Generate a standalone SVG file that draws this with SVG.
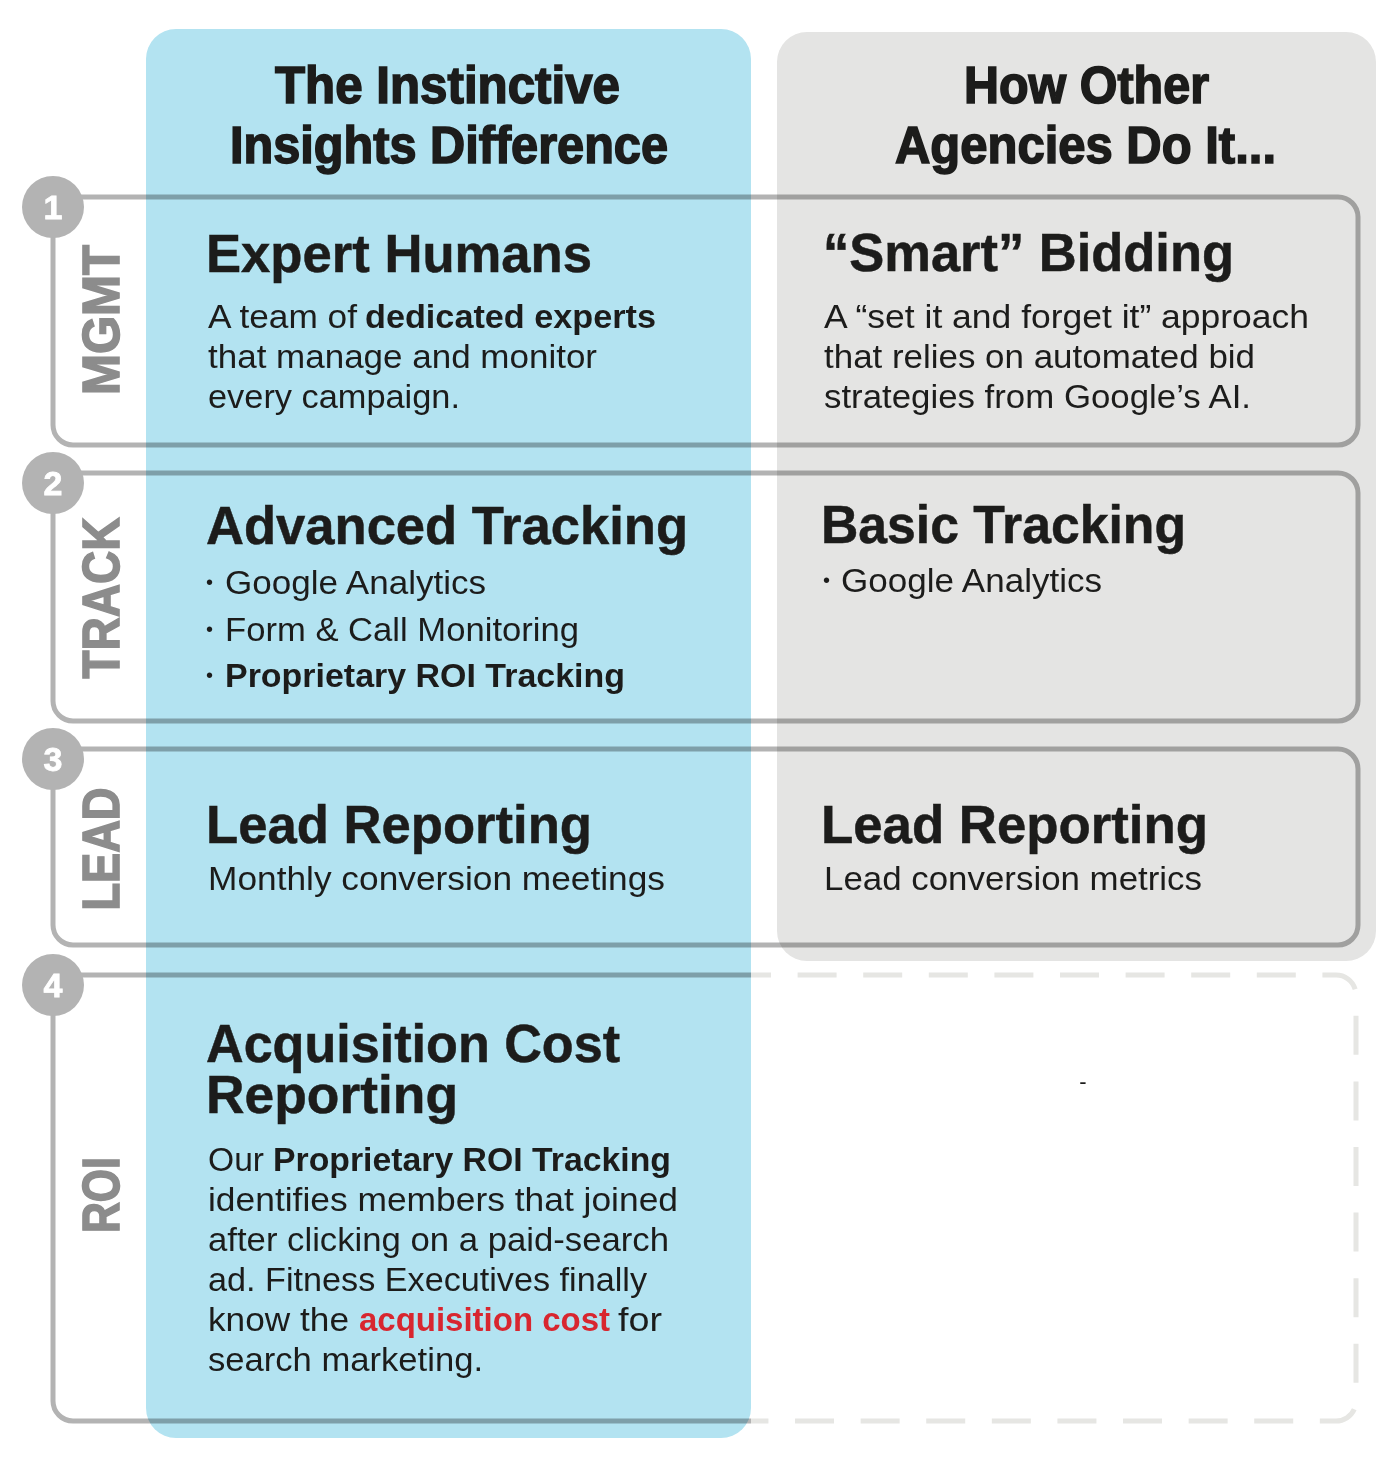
<svg xmlns="http://www.w3.org/2000/svg" width="1396" height="1478" viewBox="0 0 1396 1478">
<style>
  text { font-family: "Liberation Sans", Arial, sans-serif; fill: #1c1c1b; }
  .hdr { font-size: 51px; font-weight: bold; stroke: #1c1c1b; stroke-width: 1.6; }
  .h { font-size: 53px; font-weight: bold; stroke: #1c1c1b; stroke-width: 0.5; }
  .b { font-size: 33px; }
  .bb { font-size: 33px; font-weight: bold; }
  .red { fill: #d8262f; }
  .dot { font-size: 20px; }
  .lbl { font-size: 52px; font-weight: bold; fill: #8c8c8c; stroke: #8c8c8c; stroke-width: 1.6; }
  .num { font-size: 34px; font-weight: bold; fill: #ffffff; stroke: #ffffff; stroke-width: 0.8; }
  .frame { fill: none; stroke: #b3b3b3; stroke-width: 5; mix-blend-mode: multiply; }
  .dash { fill: none; stroke: #e6e6e3; stroke-width: 5; stroke-dasharray: 39 26.6; stroke-dashoffset: 19; }
  .circ { fill: #b3b3b3; }
</style>
<rect width="1396" height="1478" fill="#ffffff"/>

<g id="col-instinctive">
  <rect x="146" y="29" width="605" height="1409" rx="30" fill="#b3e3f1"/>
</g>
<g id="col-others">
  <rect x="777" y="32" width="599" height="929" rx="30" fill="#e4e4e3"/>
</g>

<g id="frames">
  <rect class="frame" x="53" y="197" width="1305" height="248" rx="20"/>
  <rect class="frame" x="53" y="473" width="1305" height="248" rx="20"/>
  <rect class="frame" x="53" y="749" width="1305" height="196" rx="20"/>
  <path class="frame" d="M751,975 H73 A20,20 0 0 0 53,995 V1401 A20,20 0 0 0 73,1421 H751"/>
  <path class="dash" d="M751,975 H1336 A20,20 0 0 1 1356,995 V1401 A20,20 0 0 1 1336,1421 H751"/>
</g>

<g id="row-1-marker">
  <circle class="circ" cx="53" cy="207" r="31"/>
  <text class="num" x="53" y="219" text-anchor="middle">1</text>
  <text class="lbl" transform="translate(119,320) rotate(-90)" text-anchor="middle" textLength="150" lengthAdjust="spacingAndGlyphs">MGMT</text>
</g>
<g id="row-2-marker">
  <circle class="circ" cx="53" cy="483" r="31"/>
  <text class="num" x="53" y="495" text-anchor="middle">2</text>
  <text class="lbl" transform="translate(119,598) rotate(-90)" text-anchor="middle" textLength="161" lengthAdjust="spacingAndGlyphs">TRACK</text>
</g>
<g id="row-3-marker">
  <circle class="circ" cx="53" cy="759" r="31"/>
  <text class="num" x="53" y="771" text-anchor="middle">3</text>
  <text class="lbl" transform="translate(119,849) rotate(-90)" text-anchor="middle" textLength="123" lengthAdjust="spacingAndGlyphs">LEAD</text>
</g>
<g id="row-4-marker">
  <circle class="circ" cx="53" cy="985" r="31"/>
  <text class="num" x="53" y="997" text-anchor="middle">4</text>
  <text class="lbl" transform="translate(119,1195) rotate(-90)" text-anchor="middle" textLength="76" lengthAdjust="spacingAndGlyphs">ROI</text>
</g>

<g id="header-instinctive">
  <text class="hdr" x="275" y="103" textLength="345" lengthAdjust="spacingAndGlyphs">The Instinctive</text>
  <text class="hdr" x="230" y="163" textLength="438" lengthAdjust="spacingAndGlyphs">Insights Difference</text>
</g>
<g id="header-others">
  <text class="hdr" x="964" y="103" textLength="245" lengthAdjust="spacingAndGlyphs">How Other</text>
  <text class="hdr" x="895" y="163" textLength="381" lengthAdjust="spacingAndGlyphs">Agencies Do It...</text>
</g>

<g id="cell-1-instinctive">
  <text class="h" x="206" y="272" textLength="386" lengthAdjust="spacingAndGlyphs">Expert Humans</text>
  <text class="b" x="208" y="328" textLength="149" lengthAdjust="spacingAndGlyphs">A team of</text>
  <text class="bb" x="365" y="328" textLength="291" lengthAdjust="spacingAndGlyphs">dedicated experts</text>
  <text class="b" x="208" y="368" textLength="389" lengthAdjust="spacingAndGlyphs">that manage and monitor</text>
  <text class="b" x="208" y="408" textLength="252" lengthAdjust="spacingAndGlyphs">every campaign.</text>
</g>
<g id="cell-1-others">
  <text class="h" x="823" y="271" textLength="411" lengthAdjust="spacingAndGlyphs">“Smart” Bidding</text>
  <text class="b" x="824" y="328" textLength="485" lengthAdjust="spacingAndGlyphs">A “set it and forget it” approach</text>
  <text class="b" x="824" y="368" textLength="431" lengthAdjust="spacingAndGlyphs">that relies on automated bid</text>
  <text class="b" x="824" y="408" textLength="427" lengthAdjust="spacingAndGlyphs">strategies from Google’s AI.</text>
</g>

<g id="cell-2-instinctive">
  <text class="h" x="206" y="544" textLength="482" lengthAdjust="spacingAndGlyphs">Advanced Tracking</text>
  <text class="dot" x="206" y="589">•</text>
  <text class="b" x="225" y="594" textLength="261" lengthAdjust="spacingAndGlyphs">Google Analytics</text>
  <text class="dot" x="206" y="636">•</text>
  <text class="b" x="225" y="641" textLength="354" lengthAdjust="spacingAndGlyphs">Form &amp; Call Monitoring</text>
  <text class="dot" x="206" y="682">•</text>
  <text class="bb" x="225" y="687" textLength="400" lengthAdjust="spacingAndGlyphs">Proprietary ROI Tracking</text>
</g>
<g id="cell-2-others">
  <text class="h" x="821" y="543" textLength="365" lengthAdjust="spacingAndGlyphs">Basic Tracking</text>
  <text class="dot" x="823" y="587">•</text>
  <text class="b" x="841" y="592" textLength="261" lengthAdjust="spacingAndGlyphs">Google Analytics</text>
</g>

<g id="cell-3-instinctive">
  <text class="h" x="206" y="843" textLength="386" lengthAdjust="spacingAndGlyphs">Lead Reporting</text>
  <text class="b" x="208" y="890" textLength="457" lengthAdjust="spacingAndGlyphs">Monthly conversion meetings</text>
</g>
<g id="cell-3-others">
  <text class="h" x="821" y="843" textLength="387" lengthAdjust="spacingAndGlyphs">Lead Reporting</text>
  <text class="b" x="824" y="890" textLength="378" lengthAdjust="spacingAndGlyphs">Lead conversion metrics</text>
</g>

<g id="cell-4-instinctive">
  <text class="h"><tspan x="206" y="1062" textLength="414" lengthAdjust="spacingAndGlyphs">Acquisition Cost</tspan><tspan x="206" y="1113" textLength="252" lengthAdjust="spacingAndGlyphs">Reporting</tspan></text>
  <text class="b" x="208" y="1171" textLength="56" lengthAdjust="spacingAndGlyphs">Our</text>
  <text class="bb" x="273" y="1171" textLength="398" lengthAdjust="spacingAndGlyphs">Proprietary ROI Tracking</text>
  <text class="b" x="208" y="1211" textLength="470" lengthAdjust="spacingAndGlyphs">identifies members that joined</text>
  <text class="b" x="208" y="1251" textLength="461" lengthAdjust="spacingAndGlyphs">after clicking on a paid-search</text>
  <text class="b" x="208" y="1291" textLength="439" lengthAdjust="spacingAndGlyphs">ad. Fitness Executives finally</text>
  <text class="b" x="208" y="1331" textLength="141" lengthAdjust="spacingAndGlyphs">know the</text>
  <text class="bb red" x="359" y="1331" textLength="251" lengthAdjust="spacingAndGlyphs">acquisition cost</text>
  <text class="b" x="618" y="1331" textLength="44" lengthAdjust="spacingAndGlyphs">for</text>
  <text class="b" x="208" y="1371" textLength="275" lengthAdjust="spacingAndGlyphs">search marketing.</text>
</g>
<g id="cell-4-others">
  <text x="1083" y="1089" text-anchor="middle" style="font-size:22px">-</text>
</g>
</svg>
